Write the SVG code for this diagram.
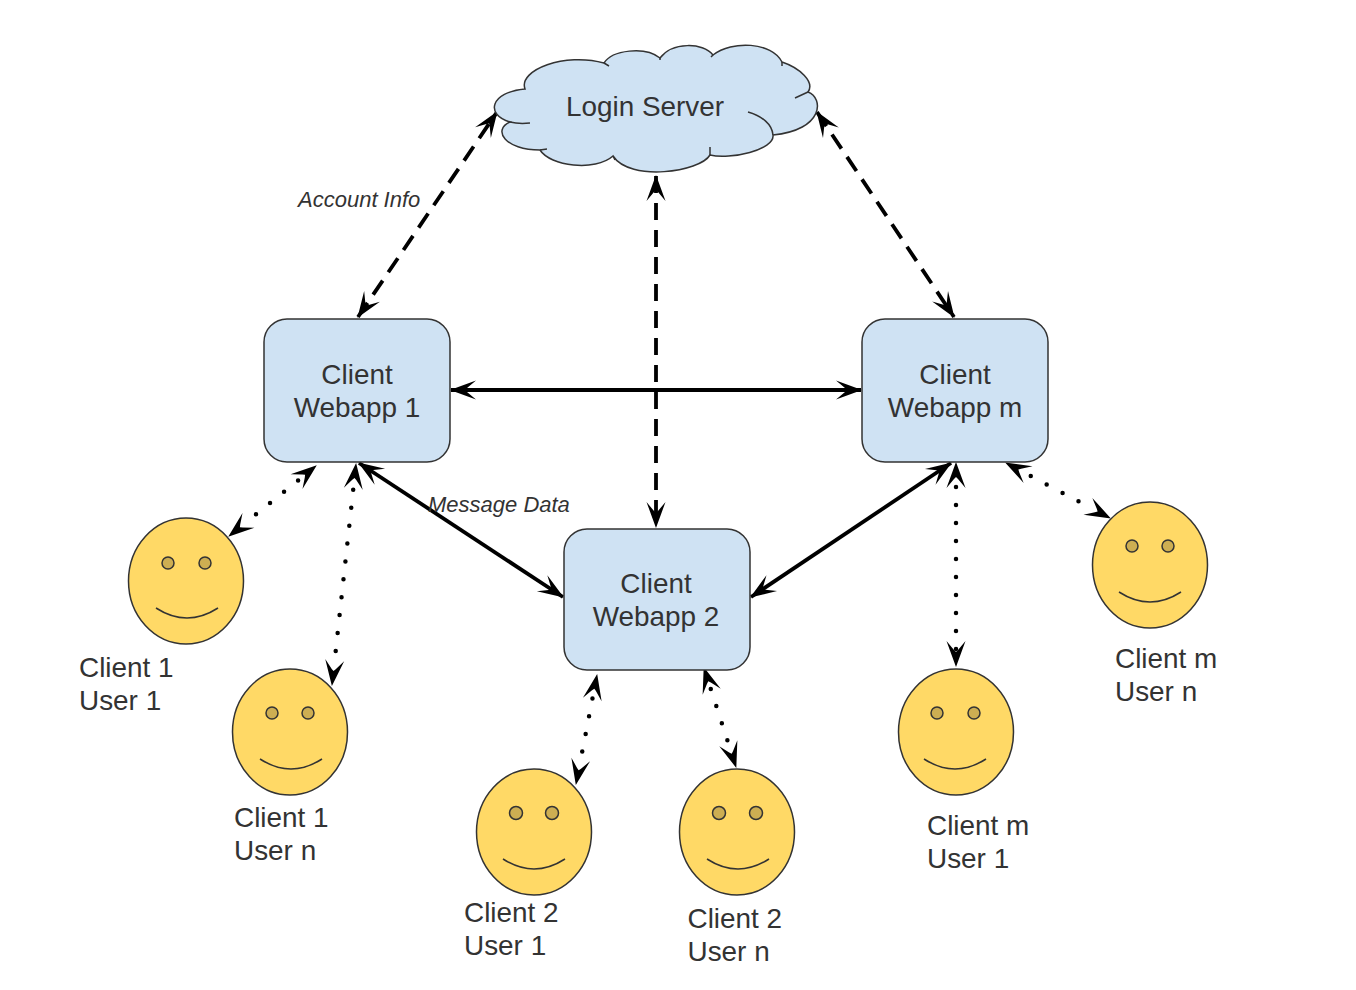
<svg xmlns="http://www.w3.org/2000/svg" width="1356" height="990" viewBox="0 0 1356 990">
<style>
text{font-family:"Liberation Sans",Arial,sans-serif;fill:#333;font-size:27.9px}
.c{text-anchor:middle}
.i{font-style:italic;font-size:22px}
.box{fill:#cfe2f3;stroke:#333;stroke-width:1.5}
.cloud{fill:#cfe2f3;stroke:#333;stroke-width:1.5}
.hook{fill:none;stroke:#333;stroke-width:1.5}
.face{fill:#ffd966;stroke:#333;stroke-width:1.5}
.eye{fill:#cdae52;stroke:#333;stroke-width:1.5}
.smile{fill:none;stroke:#333;stroke-width:1.5}
.l{fill:none;stroke:#000;marker-start:url(#a);marker-end:url(#a)}
.solid{stroke-width:3.8}
.dash{stroke-width:3.8;stroke-dasharray:17 10}
.dot{stroke-width:4.5;stroke-linecap:round}
</style>
<defs>
<marker id="a" markerUnits="userSpaceOnUse" markerWidth="36" markerHeight="36" refX="29" refY="18" orient="auto-start-reverse" viewBox="0 0 36 36">
<path d="M30 18L4 8.500L13 16L15 18L13 20L4 27.500Z" fill="#000"/>
</marker>
</defs>
<g id="connectors">
<path class="l dash" d="M358 317L497 112"/>
<path class="l dash" d="M656 176V527"/>
<path class="l dash" d="M817 112L954 317"/>
<path class="l solid" d="M451 390H861"/>
<path class="l solid" d="M359 463L563 597"/>
<path class="l solid" d="M951 463L751 597"/>
<path class="l dot" stroke-dasharray="0 18 0 18 0 18 0 200" stroke-dashoffset="-23" d="M316 466L229 536"/>
<path class="l dot" stroke-dasharray="0 18 0 18 0 18 0 18 0 18 0 18 0 18 0 18 0 18 0 400" stroke-dashoffset="-26" d="M356 464L332 685"/>
<path class="l dot" stroke-dasharray="0 18 0 18 0 18 0 200" stroke-dashoffset="-24" d="M597 675L576 784"/>
<path class="l dot" stroke-dasharray="0 18 0 18 0 18 0 200" stroke-dashoffset="-22" d="M704 668L736 767"/>
<path class="l dot" stroke-dasharray="0 18 0 18 0 18 0 18 0 18 0 18 0 18 0 18 0 18 0 400" stroke-dashoffset="-24" d="M956 463V666"/>
<path class="l dot" stroke-dasharray="0 18 0 18 0 18 0 200" stroke-dashoffset="-28" d="M1006 463L1110 518"/>
</g>
<g id="login-server">
<path class="cloud" d="M525 89C518 70 565 52 604 63C612 50 645 46 660 58C672 42 703 42 713 55C732 40 772 42 782 62C800 68 815 82 808 92C824 98 824 130 773 135C775 150 730 160 710 155C700 172 630 182 613 156C595 172 550 166 540 150C505 150 492 130 510 122C485 115 490 92 525 89Z"/>
<path class="hook" d="M748 112C762 116 772 124 773 135M795 98L808 92M530 123C520 124 514 123 510 122M547 149L540 150M613 156L615 160M710 147V155M604 63L609 66M660 58V60M713 55L711 57M782 62L782 66"/>
<text class="c" x="645" y="116">Login Server</text>
</g>
<g id="webapp-1"><rect class="box" x="264" y="319" width="186" height="143" rx="23"/><text class="c" x="357" y="384">Client</text><text class="c" x="357" y="417">Webapp 1</text></g>
<g id="webapp-m"><rect class="box" x="862" y="319" width="186" height="143" rx="23"/><text class="c" x="955" y="384">Client</text><text class="c" x="955" y="417">Webapp m</text></g>
<g id="webapp-2"><rect class="box" x="564" y="529" width="186" height="141" rx="23"/><text class="c" x="656" y="593">Client</text><text class="c" x="656" y="626">Webapp 2</text></g>
<g id="client-1-user-1"><ellipse class="face" cx="186" cy="581" rx="57.500" ry="63"/><circle class="eye" cx="168" cy="563" r="6"/><circle class="eye" cx="205" cy="563" r="6"/><path class="smile" d="M156 608Q187 628 218 608"/><text x="79" y="677">Client 1</text><text x="79" y="710">User 1</text></g>
<g id="client-1-user-n"><ellipse class="face" cx="290" cy="732" rx="57.500" ry="63"/><circle class="eye" cx="272" cy="713" r="6"/><circle class="eye" cx="308" cy="713" r="6"/><path class="smile" d="M260 759Q291 779 322 759"/><text x="234" y="827">Client 1</text><text x="234" y="860">User n</text></g>
<g id="client-2-user-1"><ellipse class="face" cx="534" cy="832" rx="57.500" ry="63"/><circle class="eye" cx="516" cy="813" r="6.500"/><circle class="eye" cx="552" cy="813" r="6.500"/><path class="smile" d="M503 859Q534 879 565 859"/><text x="464" y="922">Client 2</text><text x="464" y="955">User 1</text></g>
<g id="client-2-user-n"><ellipse class="face" cx="737" cy="832" rx="57.500" ry="63"/><circle class="eye" cx="719" cy="813" r="6.500"/><circle class="eye" cx="756" cy="813" r="6.500"/><path class="smile" d="M707 859Q738 879 769 859"/><text x="687.500" y="928">Client 2</text><text x="687.500" y="961">User n</text></g>
<g id="client-m-user-1"><ellipse class="face" cx="956" cy="732" rx="57.500" ry="63"/><circle class="eye" cx="937" cy="713" r="6"/><circle class="eye" cx="974" cy="713" r="6"/><path class="smile" d="M924 759Q955 779 986 759"/><text x="927" y="835">Client m</text><text x="927" y="868">User 1</text></g>
<g id="client-m-user-n"><ellipse class="face" cx="1150" cy="565" rx="57.500" ry="63"/><circle class="eye" cx="1132" cy="546" r="6"/><circle class="eye" cx="1168" cy="546" r="6"/><path class="smile" d="M1119 592Q1150 612 1181 592"/><text x="1115" y="668">Client m</text><text x="1115" y="701">User n</text></g>
<text class="i" x="298" y="207">Account Info</text>
<text class="i" x="428" y="512">Message Data</text>
</svg>
